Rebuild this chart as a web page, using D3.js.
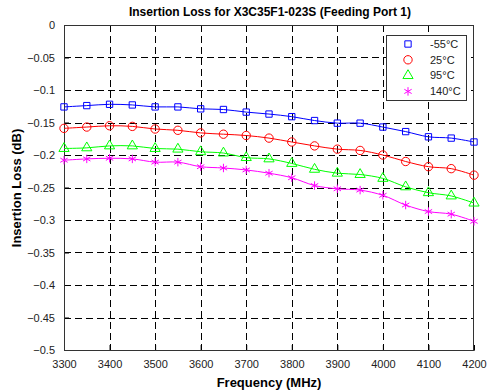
<!DOCTYPE html>
<html>
<head>
<meta charset="utf-8">
<script src="https://cdn.jsdelivr.net/npm/d3@7"></script>
<style>
  body { margin: 0; background: #fff; }
  svg { font-family: "Liberation Sans", Arial, sans-serif; }
</style>
</head>
<body>
<div id="chart"></div>
<script>
const freqs = [3300, 3350, 3400, 3450, 3500, 3550, 3600, 3650, 3700, 3750, 3800, 3850, 3900, 3950, 4000, 4050, 4100, 4150, 4200];
const lossM55 = [-0.126, -0.124, -0.122, -0.123, -0.126, -0.126, -0.129, -0.130, -0.134, -0.137, -0.141, -0.147, -0.151, -0.151, -0.157, -0.164, -0.172, -0.174, -0.180];
const loss25 = [-0.159, -0.157, -0.155, -0.156, -0.160, -0.162, -0.166, -0.168, -0.170, -0.174, -0.180, -0.186, -0.191, -0.193, -0.200, -0.210, -0.218, -0.221, -0.231];
const loss95 = [-0.190, -0.189, -0.186, -0.186, -0.190, -0.191, -0.195, -0.197, -0.204, -0.206, -0.213, -0.222, -0.228, -0.230, -0.236, -0.249, -0.258, -0.263, -0.274];
const loss140 = [-0.208, -0.206, -0.205, -0.206, -0.211, -0.211, -0.218, -0.220, -0.223, -0.228, -0.235, -0.247, -0.252, -0.254, -0.262, -0.277, -0.287, -0.291, -0.302];
const seriesNames = ['-55°C', '25°C', '95°C', '140°C'];
const xTicks = [3300, 3400, 3500, 3600, 3700, 3800, 3900, 4000, 4100, 4200];
const yTicks = [0, -0.05, -0.1, -0.15, -0.2, -0.25, -0.3, -0.35, -0.4, -0.45, -0.5];

const series = [
  { name: seriesNames[0], values: lossM55, color: '#0000ff', symbol: 'square' },
  { name: seriesNames[1], values: loss25, color: '#ff0000', symbol: 'circle' },
  { name: seriesNames[2], values: loss95, color: '#00ff00', symbol: 'triangle' },
  { name: seriesNames[3], values: loss140, color: '#ff00ff', symbol: 'star' }
];

const width = 490, height = 392;
const margin = { top: 25, right: 16, bottom: 42, left: 64 };

const svg = d3.select('#chart').append('svg')
  .attr('width', width)
  .attr('height', height);

const x = d3.scaleLinear()
  .domain([3300, 4200])
  .range([margin.left, width - margin.right]);
const y = d3.scaleLinear()
  .domain([-0.5, 0])
  .range([height - margin.bottom, margin.top]);

// grid
const grid = svg.append('g')
  .attr('stroke', '#000')
  .attr('stroke-width', 1)
  .attr('stroke-dasharray', '7,4');
grid.selectAll('.vg')
  .data(xTicks.slice(1, -1))
  .join('line')
    .attr('x1', d => Math.round(x(d)) + 0.5)
    .attr('x2', d => Math.round(x(d)) + 0.5)
    .attr('y1', margin.top)
    .attr('y2', height - margin.bottom);
grid.selectAll('.hg')
  .data(yTicks.slice(1, -1))
  .join('line')
    .attr('y1', d => Math.round(y(d)) + 0.5)
    .attr('y2', d => Math.round(y(d)) + 0.5)
    .attr('x1', margin.left)
    .attr('x2', width - margin.right);

// axes
function xAxis(g) {
  g.attr('transform', `translate(0,${height - margin.bottom})`)
    .call(d3.axisBottom(x).tickValues(xTicks).tickSize(-5).tickPadding(10).tickFormat(d3.format('d')))
    .attr('font-size', '11px')
    .attr('font-family', null);
  g.select('.domain').attr('stroke', '#333');
  g.selectAll('.tick text').attr('fill', '#222');
}
function yAxis(g) {
  g.attr('transform', `translate(${margin.left},0)`)
    .call(d3.axisLeft(y).tickValues(yTicks).tickSize(-5).tickPadding(9).tickFormat(d => d === 0 ? '0' : d3.format('')(+d.toFixed(2))))
    .attr('font-size', '11px')
    .attr('font-family', null);
  g.select('.domain').attr('stroke', '#333');
  g.selectAll('.tick text').attr('fill', '#222');
}
svg.append('g').call(xAxis);
svg.append('g').call(yAxis);

// box top/right
svg.append('rect')
  .attr('x', margin.left + 0.5)
  .attr('y', margin.top + 0.5)
  .attr('width', width - margin.right - margin.left - 1)
  .attr('height', height - margin.bottom - margin.top)
  .attr('fill', 'none')
  .attr('stroke', '#333');

const symbolFor = {
  square: d3.symbol(d3.symbolSquare, 40),
  circle: d3.symbol(d3.symbolCircle, 55),
  triangle: d3.symbol(d3.symbolTriangle, 45),
  star: d3.symbol(d3.symbolAsterisk, 50)
};

const line = d3.line()
  .x((d, i) => x(freqs[i]))
  .y(d => y(d))
  .curve(d3.curveCatmullRom);

series.forEach(s => {
  svg.append('path')
    .datum(s.values)
    .attr('fill', 'none')
    .attr('stroke', s.color)
    .attr('stroke-width', 1)
    .attr('d', line);
  svg.append('g')
    .selectAll('path')
    .data(s.values)
    .join('path')
      .attr('transform', (d, i) => `translate(${x(freqs[i])},${y(d)})`)
      .attr('d', symbolFor[s.symbol])
      .attr('fill', 'none')
      .attr('stroke', s.color)
      .attr('stroke-width', 1);
});

// legend
const legend = svg.append('g').attr('transform', 'translate(386,35)');
legend.append('rect')
  .attr('x', 0.5).attr('y', 0.5)
  .attr('width', 80).attr('height', 65)
  .attr('fill', '#fff')
  .attr('stroke', '#333');
series.forEach((s, i) => {
  const yy = 9 + i * 15.8;
  legend.append('path')
    .attr('transform', `translate(22,${yy})`)
    .attr('d', symbolFor[s.symbol])
    .attr('fill', 'none')
    .attr('stroke', s.color);
  legend.append('text')
    .attr('x', 44)
    .attr('y', yy)
    .attr('dy', '0.35em')
    .attr('font-size', '11px')
    .attr('fill', '#222')
    .text(s.name);
});

// titles
svg.append('text')
  .attr('x', 270).attr('y', 16)
  .attr('text-anchor', 'middle')
  .attr('font-size', '12px')
  .attr('font-weight', 'bold')
  .text('Insertion Loss for X3C35F1-023S (Feeding Port 1)');
svg.append('text')
  .attr('x', 269).attr('y', 387)
  .attr('text-anchor', 'middle')
  .attr('font-size', '13px')
  .attr('font-weight', 'bold')
  .text('Frequency (MHz)');
svg.append('text')
  .attr('transform', 'translate(21,188) rotate(-90)')
  .attr('text-anchor', 'middle')
  .attr('font-size', '13px')
  .attr('font-weight', 'bold')
  .text('Insertion Loss (dB)');
</script>
</body>
</html>
